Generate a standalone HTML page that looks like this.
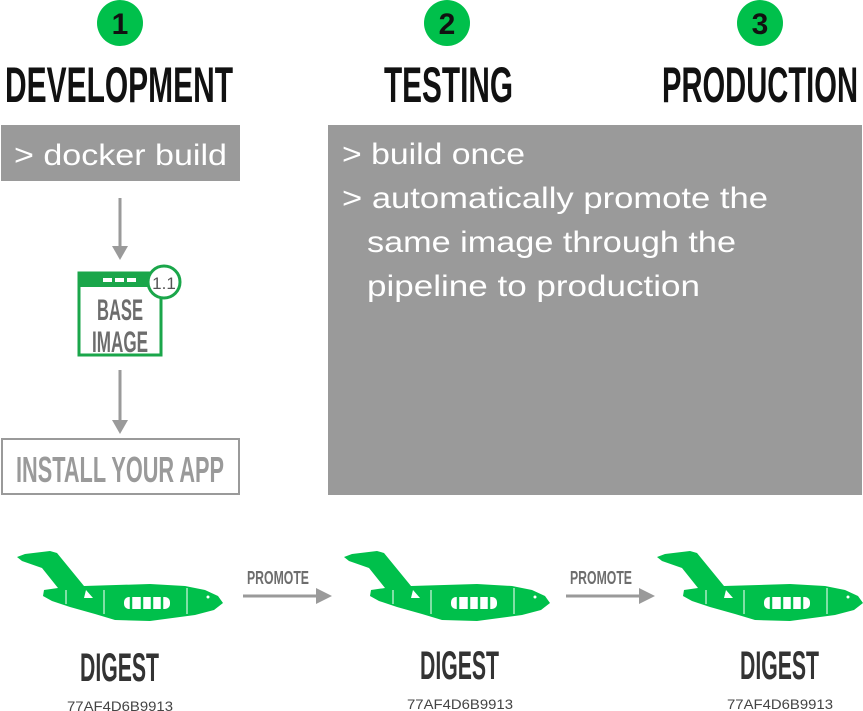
<!DOCTYPE html>
<html><head><meta charset="utf-8"><style>body{margin:0;background:#fff}svg{display:block}</style></head><body>
<svg width="863" height="711" viewBox="0 0 863 711" xmlns="http://www.w3.org/2000/svg" font-family="Liberation Sans, sans-serif">
<defs>
<g id="plane">
<path d="M17,557 L25,554 L50,551 L57,553 L84,586 L150,584 L185,586 L205,590 L218,596 L223,603 L214,610 L195,615 L150,621 L115,620 L95,614 L70,607 L52,601 L43,596 L44,590 L58,588 L42,568 L22,561 Z" fill="#00c04b"/>
<path d="M86,590 L93,598 L84,598 Z" fill="#fff"/>
<rect x="124" y="597" width="46" height="12" rx="5" fill="#fff"/>
<path d="M131,597 v12 M142,597 v12 M152,597 v12 M162,597 v12" stroke="#00c04b" stroke-width="2.5"/>
<path d="M66,590 v14 M104,590 v24 M187,588 v26" stroke="#fff" stroke-width="1"/>
<circle cx="208" cy="597" r="1.5" fill="#fff"/>
</g>
</defs>
<g fill="#00c04b"><circle cx="120" cy="23" r="23"/><circle cx="447" cy="23" r="23"/><circle cx="760" cy="23" r="23"/></g>
<g font-weight="bold" font-size="30" fill="#111" text-anchor="middle"><text x="120" y="34">1</text><text x="447" y="34">2</text><text x="760" y="34">3</text></g>
<g font-weight="bold" font-size="50" fill="#111">
<text x="5" y="102" textLength="228" lengthAdjust="spacingAndGlyphs">DEVELOPMENT</text>
<text x="384" y="102" textLength="129" lengthAdjust="spacingAndGlyphs">TESTING</text>
<text x="662" y="102" textLength="196" lengthAdjust="spacingAndGlyphs">PRODUCTION</text>
</g>
<rect x="1" y="125" width="239" height="56" fill="#9a9a9a"/>
<text x="14" y="165" font-size="30" fill="#fff" textLength="213" lengthAdjust="spacingAndGlyphs">&gt; docker build</text>
<rect x="328" y="125" width="534" height="370" fill="#9a9a9a"/>
<g font-size="30" fill="#fff">
<text x="342" y="164" textLength="183" lengthAdjust="spacingAndGlyphs">&gt; build once</text>
<text x="342" y="208" textLength="426" lengthAdjust="spacingAndGlyphs">&gt; automatically promote the</text>
<text x="367" y="252" textLength="369" lengthAdjust="spacingAndGlyphs">same image through the</text>
<text x="367" y="296" textLength="333" lengthAdjust="spacingAndGlyphs">pipeline to production</text>
</g>
<g stroke="#9a9a9a" stroke-width="3"><line x1="120" y1="198" x2="120" y2="248"/><line x1="120" y1="370" x2="120" y2="422"/></g>
<g fill="#9a9a9a"><path d="M112,246 L128,246 L120,260 Z"/><path d="M112,420 L128,420 L120,434 Z"/></g>
<rect x="79" y="273" width="82" height="82" fill="#fff" stroke="#1aa64a" stroke-width="3"/>
<rect x="79" y="273" width="82" height="14" fill="#1aa64a"/>
<g fill="#fff"><rect x="103" y="278" width="9" height="4"/><rect x="115" y="278" width="9" height="4"/><rect x="127" y="278" width="9" height="4"/></g>
<circle cx="164" cy="282" r="16" fill="#fff" stroke="#1aa64a" stroke-width="3"/>
<text x="164" y="289" font-size="17" fill="#555" text-anchor="middle">1.1</text>
<g font-weight="bold" font-size="30" fill="#6d6d6d" text-anchor="middle">
<text x="120" y="320" textLength="46" lengthAdjust="spacingAndGlyphs">BASE</text>
<text x="120" y="352" textLength="56" lengthAdjust="spacingAndGlyphs">IMAGE</text>
</g>
<rect x="2" y="439" width="237" height="55" fill="#fff" stroke="#9a9a9a" stroke-width="2"/>
<text x="16" y="482" font-weight="bold" font-size="36" fill="#9a9a9a" textLength="208" lengthAdjust="spacingAndGlyphs">INSTALL YOUR APP</text>
<use href="#plane"/>
<use href="#plane" x="327"/>
<use href="#plane" x="640"/>
<g stroke="#9a9a9a" stroke-width="3"><line x1="243" y1="596" x2="318" y2="596"/><line x1="566" y1="596" x2="641" y2="596"/></g>
<g fill="#9a9a9a"><path d="M316,588 L332,596 L316,604 Z"/><path d="M639,588 L655,596 L639,604 Z"/></g>
<g font-weight="bold" font-size="18" fill="#6d6d6d">
<text x="247" y="584" textLength="62" lengthAdjust="spacingAndGlyphs">PROMOTE</text>
<text x="570" y="584" textLength="62" lengthAdjust="spacingAndGlyphs">PROMOTE</text>
</g>
<g font-weight="bold" font-size="40" fill="#333">
<text x="80" y="681" textLength="79" lengthAdjust="spacingAndGlyphs">DIGEST</text>
<text x="420" y="679" textLength="79" lengthAdjust="spacingAndGlyphs">DIGEST</text>
<text x="740" y="679" textLength="79" lengthAdjust="spacingAndGlyphs">DIGEST</text>
</g>
<g font-size="14" fill="#444">
<text x="67" y="711" textLength="106" lengthAdjust="spacingAndGlyphs">77AF4D6B9913</text>
<text x="407" y="709" textLength="106" lengthAdjust="spacingAndGlyphs">77AF4D6B9913</text>
<text x="727" y="709" textLength="106" lengthAdjust="spacingAndGlyphs">77AF4D6B9913</text>
</g>
</svg>
</body></html>
